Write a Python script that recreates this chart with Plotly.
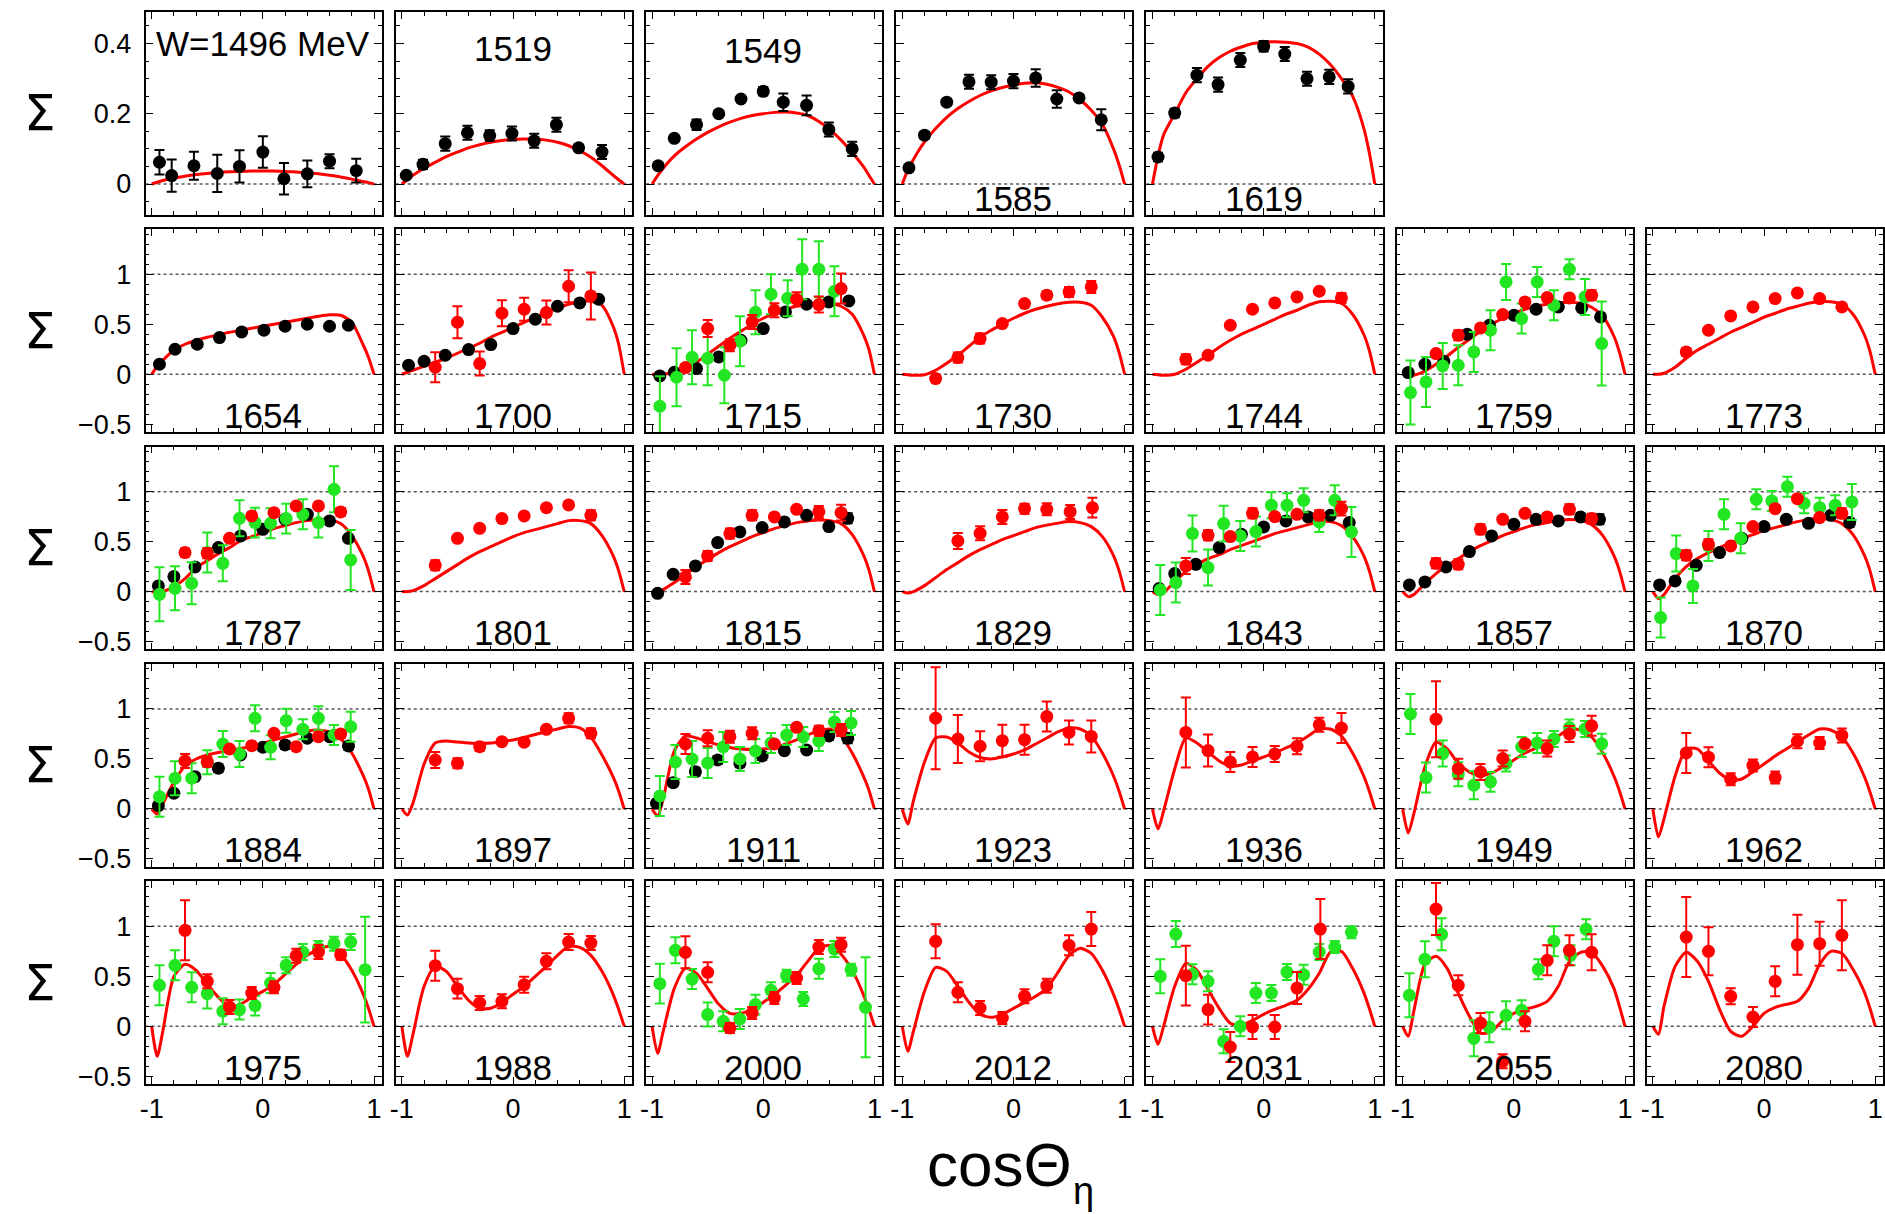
import plotly.graph_objects as go

# ---------------- data ----------------
CX = [-1, -0.95, -0.9, -0.8, -0.7, -0.6, -0.5, -0.4, -0.3, -0.2, -0.1, 0, 0.1, 0.2, 0.3, 0.4, 0.5, 0.6, 0.7, 0.8, 0.9, 0.95, 1]

LABELS = ["W=1496 MeV", "1519", "1549", "1585", "1619",
          "1654", "1700", "1715", "1730", "1744", "1759", "1773",
          "1787", "1801", "1815", "1829", "1843", "1857", "1870",
          "1884", "1897", "1911", "1923", "1936", "1949", "1962",
          "1975", "1988", "2000", "2012", "2031", "2055", "2080"]

X_TICK_LABELS = ["-1", "0", "1"]

RED_X = [-0.7, -0.5, -0.3, -0.1, 0.1, 0.3, 0.5, 0.7]
BLACK_X = [-0.94, -0.8, -0.61, -0.4, -0.2, 0.0, 0.2, 0.4, 0.6, 0.77]
GREEN_X = [-0.93, -0.79, -0.64, -0.5, -0.36, -0.21, -0.07, 0.07, 0.21, 0.36, 0.5, 0.64, 0.79]
GREEN_X14 = [-0.93, -0.79, -0.64, -0.5, -0.36, -0.21, -0.07, 0.07, 0.21, 0.36, 0.5, 0.64, 0.79, 0.92]

# ---- row 1 ----
C1496 = [0, 0.005, 0.01, 0.017, 0.022, 0.027, 0.03, 0.033, 0.035, 0.036, 0.037, 0.037, 0.037, 0.036, 0.034, 0.032, 0.029, 0.025, 0.02, 0.014, 0.007, 0.004, 0]
K1496_X = [-0.93, -0.82, -0.62, -0.41, -0.21, 0.0, 0.19, 0.4, 0.6, 0.84]
K1496_Y = [0.062, 0.024, 0.052, 0.03, 0.05, 0.091, 0.015, 0.029, 0.065, 0.038]
K1496_E = [0.035, 0.046, 0.04, 0.053, 0.046, 0.045, 0.045, 0.038, 0.02, 0.034]

C1519 = [0, 0.013, 0.025, 0.045, 0.062, 0.078, 0.091, 0.103, 0.112, 0.119, 0.124, 0.127, 0.128, 0.128, 0.125, 0.119, 0.109, 0.095, 0.076, 0.052, 0.025, 0.012, 0]
K1519_X = [-0.96, -0.81, -0.61, -0.41, -0.21, -0.01, 0.19, 0.39, 0.59, 0.8]
K1519_Y = [0.025, 0.056, 0.115, 0.146, 0.138, 0.144, 0.123, 0.169, 0.103, 0.091]
K1519_E = [0.008, 0.013, 0.02, 0.02, 0.015, 0.02, 0.02, 0.02, 0.008, 0.02]

C1549 = [0, 0.024, 0.045, 0.08, 0.106, 0.128, 0.147, 0.163, 0.176, 0.187, 0.195, 0.2, 0.204, 0.205, 0.202, 0.195, 0.178, 0.155, 0.125, 0.09, 0.05, 0.025, 0]
K1549_X = [-0.945, -0.8, -0.6, -0.4, -0.2, 0.0, 0.18, 0.39, 0.59, 0.8]
K1549_Y = [0.052, 0.13, 0.169, 0.2, 0.242, 0.264, 0.233, 0.224, 0.155, 0.1]
K1549_E = [0.008, 0.008, 0.015, 0.008, 0.008, 0.012, 0.025, 0.028, 0.02, 0.02]

C1585 = [0, 0.04, 0.07, 0.12, 0.158, 0.19, 0.215, 0.235, 0.252, 0.265, 0.275, 0.282, 0.287, 0.288, 0.284, 0.275, 0.262, 0.24, 0.21, 0.17, 0.1, 0.055, 0]
K1585_X = [-0.94, -0.8, -0.6, -0.4, -0.2, 0.0, 0.2, 0.39, 0.59, 0.79]
K1585_Y = [0.046, 0.139, 0.233, 0.291, 0.29, 0.293, 0.302, 0.242, 0.245, 0.183]
K1585_E = [0.008, 0.01, 0.008, 0.02, 0.02, 0.02, 0.025, 0.025, 0.008, 0.03]

C1619 = [0, 0.08, 0.14, 0.2, 0.26, 0.3, 0.335, 0.36, 0.378, 0.39, 0.4, 0.404, 0.405, 0.404, 0.4, 0.39, 0.37, 0.34, 0.3, 0.25, 0.16, 0.09, 0]
K1619_X = [-0.95, -0.8, -0.6, -0.41, -0.21, 0.0, 0.19, 0.39, 0.59, 0.76]
K1619_Y = [0.077, 0.202, 0.31, 0.283, 0.353, 0.392, 0.37, 0.3, 0.305, 0.278]
K1619_E = [0.012, 0.012, 0.02, 0.02, 0.02, 0.015, 0.02, 0.02, 0.02, 0.02]

# ---- row 2 ----
C1654 = [0, 0.08, 0.14, 0.24, 0.3, 0.34, 0.37, 0.395, 0.42, 0.44, 0.46, 0.48, 0.5, 0.52, 0.54, 0.56, 0.58, 0.595, 0.59, 0.52, 0.3, 0.17, 0]
K1654_X = [-0.93, -0.79, -0.59, -0.39, -0.19, 0.01, 0.2, 0.4, 0.6, 0.77]
K1654_Y = [0.1, 0.25, 0.3, 0.367, 0.423, 0.44, 0.48, 0.5, 0.48, 0.49]
K1654_E = [0.015, 0.015, 0.015, 0.015, 0.015, 0.015, 0.015, 0.015, 0.015, 0.015]

C1700 = [0, 0.02, 0.04, 0.08, 0.12, 0.16, 0.21, 0.26, 0.31, 0.37, 0.42, 0.47, 0.52, 0.57, 0.62, 0.66, 0.7, 0.725, 0.73, 0.69, 0.48, 0.3, 0]
K1700_Y = [0.09, 0.13, 0.19, 0.247, 0.297, 0.457, 0.55, 0.68, 0.713, 0.75]
K1700_E = [0.015, 0.015, 0.015, 0.015, 0.015, 0.015, 0.015, 0.015, 0.015, 0.015]
R1700_Y = [0.07, 0.52, 0.107, 0.61, 0.65, 0.617, 0.88, 0.783]
R1700_E = [0.15, 0.16, 0.12, 0.13, 0.115, 0.12, 0.16, 0.235]

C1715 = [0, -0.005, 0.0, 0.02, 0.06, 0.12, 0.2, 0.28, 0.36, 0.43, 0.5, 0.56, 0.61, 0.65, 0.68, 0.7, 0.71, 0.71, 0.68, 0.6, 0.4, 0.25, 0]
K1715_X = [-0.93, -0.8, -0.6, -0.4, -0.2, 0.0, 0.2, 0.39, 0.59, 0.77]
K1715_Y = [-0.017, 0.02, 0.057, 0.173, 0.34, 0.457, 0.623, 0.7, 0.723, 0.733]
K1715_E = [0.015, 0.015, 0.015, 0.015, 0.015, 0.015, 0.015, 0.015, 0.015, 0.015]
R1715_Y = [0.067, 0.457, 0.29, 0.523, 0.64, 0.75, 0.697, 0.857]
R1715_E = [0.03, 0.085, 0.06, 0.07, 0.07, 0.07, 0.08, 0.15]
G1715_X = [-0.93, -0.78, -0.64, -0.5, -0.35, -0.21, -0.07, 0.07, 0.22, 0.35, 0.5, 0.64]
G1715_Y = [-0.32, -0.03, 0.17, 0.16, -0.01, 0.33, 0.62, 0.8, 0.76, 1.05, 1.05, 0.83]
G1715_E = [0.3, 0.29, 0.27, 0.27, 0.28, 0.25, 0.22, 0.2, 0.18, 0.3, 0.28, 0.25]

C1730 = [0, -0.005, -0.01, -0.005, 0.04, 0.11, 0.19, 0.28, 0.37, 0.44, 0.5, 0.56, 0.61, 0.65, 0.68, 0.705, 0.72, 0.72, 0.69, 0.57, 0.38, 0.22, 0]
R1730_Y = [-0.043, 0.167, 0.357, 0.507, 0.707, 0.79, 0.823, 0.873]
R1730_E = [0.01, 0.05, 0.05, 0.01, 0.01, 0.04, 0.05, 0.06]

C1744 = [0, -0.005, -0.01, 0.0, 0.05, 0.12, 0.19, 0.27, 0.34, 0.4, 0.45, 0.5, 0.55, 0.6, 0.64, 0.69, 0.725, 0.73, 0.71, 0.6, 0.4, 0.24, 0]
R1744_Y = [0.15, 0.19, 0.49, 0.65, 0.713, 0.773, 0.83, 0.763]
R1744_E = [0.05, 0.01, 0.01, 0.01, 0.01, 0.01, 0.01, 0.05]

C1759 = [0, -0.015, -0.01, 0.03, 0.1, 0.18, 0.27, 0.35, 0.43, 0.5, 0.56, 0.61, 0.65, 0.68, 0.7, 0.715, 0.72, 0.71, 0.67, 0.58, 0.38, 0.22, 0]
K1759_X = [-0.95, -0.8, -0.63, -0.42, -0.22, 0.0, 0.2, 0.4, 0.61, 0.78]
K1759_Y = [0.017, 0.1, 0.13, 0.4, 0.49, 0.59, 0.65, 0.673, 0.663, 0.573]
K1759_E = [0.015, 0.015, 0.015, 0.015, 0.015, 0.015, 0.015, 0.015, 0.015, 0.015]
R1759_Y = [0.207, 0.39, 0.463, 0.597, 0.723, 0.767, 0.763, 0.79]
R1759_E = [0.02, 0.05, 0.02, 0.02, 0.02, 0.02, 0.02, 0.05]
G1759_Y = [-0.183, -0.077, 0.083, 0.09, 0.223, 0.44, 0.923, 0.557, 0.923, 0.69, 1.05, 0.773, 0.307]
G1759_E = [0.32, 0.25, 0.23, 0.2, 0.2, 0.2, 0.18, 0.15, 0.15, 0.15, 0.1, 0.18, 0.42]

C1773 = [0, 0.0, 0.01, 0.07, 0.16, 0.24, 0.3, 0.36, 0.42, 0.47, 0.52, 0.57, 0.61, 0.65, 0.68, 0.71, 0.725, 0.725, 0.7, 0.6, 0.4, 0.24, 0]
R1773_Y = [0.223, 0.44, 0.583, 0.673, 0.757, 0.813, 0.757, 0.673]
R1773_E = [0.04, 0.01, 0.01, 0.01, 0.01, 0.01, 0.01, 0.01]

# ---- row 3 ----
C1787 = [0, -0.01, 0.0, 0.05, 0.13, 0.24, 0.31, 0.38, 0.44, 0.51, 0.55, 0.59, 0.63, 0.66, 0.69, 0.71, 0.72, 0.72, 0.68, 0.56, 0.36, 0.21, 0]
K1787_Y = [0.057, 0.15, 0.247, 0.44, 0.557, 0.623, 0.723, 0.773, 0.707, 0.533]
K1787_E = [0.015, 0.015, 0.015, 0.015, 0.015, 0.015, 0.015, 0.015, 0.015, 0.015]
R1787_Y = [0.39, 0.383, 0.533, 0.757, 0.79, 0.857, 0.857, 0.797]
R1787_E = [0.04, 0.05, 0.02, 0.02, 0.02, 0.02, 0.02, 0.04]
G1787_Y = [-0.027, 0.033, 0.083, 0.39, 0.283, 0.733, 0.69, 0.683, 0.73, 0.773, 0.69, 1.023, 0.317]
G1787_E = [0.27, 0.22, 0.21, 0.2, 0.18, 0.18, 0.15, 0.15, 0.15, 0.15, 0.15, 0.23, 0.3]

C1801 = [0, 0.0, 0.01, 0.06, 0.13, 0.2, 0.27, 0.34, 0.4, 0.45, 0.5, 0.55, 0.59, 0.62, 0.65, 0.68, 0.71, 0.71, 0.68, 0.56, 0.36, 0.21, 0]
R1801_Y = [0.263, 0.533, 0.633, 0.73, 0.757, 0.84, 0.867, 0.763]
R1801_E = [0.05, 0.01, 0.01, 0.01, 0.01, 0.01, 0.01, 0.05]

C1815 = [0, -0.01, 0.02, 0.09, 0.17, 0.25, 0.32, 0.39, 0.45, 0.5, 0.55, 0.59, 0.63, 0.66, 0.69, 0.705, 0.715, 0.71, 0.68, 0.57, 0.37, 0.22, 0]
K1815_X = [-0.95, -0.81, -0.61, -0.41, -0.21, -0.01, 0.19, 0.39, 0.59, 0.76]
K1815_Y = [-0.017, 0.173, 0.257, 0.49, 0.597, 0.64, 0.697, 0.763, 0.65, 0.733]
K1815_E = [0.01, 0.01, 0.01, 0.03, 0.01, 0.01, 0.01, 0.01, 0.01, 0.05]
R1815_Y = [0.147, 0.357, 0.58, 0.763, 0.747, 0.823, 0.797, 0.79]
R1815_E = [0.07, 0.05, 0.05, 0.05, 0.02, 0.02, 0.06, 0.08]

C1829 = [0, -0.015, 0.0, 0.06, 0.14, 0.22, 0.29, 0.36, 0.42, 0.47, 0.52, 0.56, 0.6, 0.64, 0.665, 0.685, 0.7, 0.69, 0.65, 0.55, 0.36, 0.21, 0]
R1829_X = [-0.5, -0.3, -0.1, 0.1, 0.3, 0.51, 0.71]
R1829_Y = [0.507, 0.583, 0.747, 0.83, 0.823, 0.797, 0.84]
R1829_E = [0.08, 0.07, 0.07, 0.05, 0.06, 0.07, 0.1]

C1843 = [0, -0.03, -0.01, 0.1, 0.2, 0.27, 0.33, 0.37, 0.42, 0.46, 0.5, 0.54, 0.58, 0.61, 0.64, 0.67, 0.7, 0.7, 0.66, 0.55, 0.36, 0.21, 0]
K1843_Y = [0.03, 0.18, 0.273, 0.44, 0.573, 0.647, 0.707, 0.747, 0.763, 0.69]
K1843_E = [0.015, 0.015, 0.015, 0.015, 0.015, 0.015, 0.015, 0.015, 0.015, 0.015]
R1843_Y = [0.257, 0.563, 0.55, 0.783, 0.75, 0.773, 0.763, 0.83]
R1843_E = [0.08, 0.05, 0.02, 0.05, 0.02, 0.02, 0.05, 0.07]
G1843_Y = [0.017, 0.09, 0.58, 0.24, 0.68, 0.557, 0.6, 0.863, 0.863, 0.913, 0.697, 0.913, 0.597]
G1843_E = [0.25, 0.2, 0.18, 0.18, 0.18, 0.15, 0.15, 0.13, 0.12, 0.12, 0.1, 0.15, 0.25]

C1857 = [0, -0.05, -0.03, 0.08, 0.18, 0.26, 0.33, 0.4, 0.46, 0.51, 0.56, 0.6, 0.64, 0.67, 0.69, 0.71, 0.72, 0.71, 0.67, 0.56, 0.36, 0.21, 0]
K1857_Y = [0.067, 0.097, 0.247, 0.4, 0.557, 0.673, 0.723, 0.707, 0.747, 0.723]
K1857_E = [0.01, 0.01, 0.01, 0.01, 0.01, 0.01, 0.01, 0.03, 0.01, 0.05]
R1857_Y = [0.283, 0.273, 0.623, 0.723, 0.783, 0.747, 0.823, 0.73]
R1857_E = [0.05, 0.05, 0.05, 0.02, 0.02, 0.02, 0.05, 0.05]

C1870 = [0, -0.07, -0.03, 0.13, 0.25, 0.33, 0.39, 0.44, 0.49, 0.53, 0.57, 0.61, 0.64, 0.67, 0.7, 0.72, 0.73, 0.72, 0.68, 0.57, 0.37, 0.22, 0]
K1870_Y = [0.067, 0.107, 0.263, 0.39, 0.533, 0.65, 0.723, 0.683, 0.763, 0.69]
K1870_E = [0.01, 0.01, 0.01, 0.01, 0.01, 0.01, 0.01, 0.03, 0.01, 0.04]
R1870_Y = [0.363, 0.473, 0.457, 0.65, 0.83, 0.93, 0.74, 0.783]
R1870_E = [0.05, 0.05, 0.02, 0.02, 0.02, 0.02, 0.02, 0.05]
G1870_Y = [-0.26, 0.38, 0.057, 0.457, 0.773, 0.533, 0.923, 0.907, 1.05, 0.883, 0.84, 0.863, 0.897]
G1870_E = [0.2, 0.18, 0.17, 0.15, 0.15, 0.15, 0.1, 0.1, 0.1, 0.1, 0.1, 0.1, 0.18]

# ---- row 4 ----
C1884 = [0, -0.05, 0.05, 0.27, 0.43, 0.5, 0.54, 0.565, 0.585, 0.605, 0.63, 0.655, 0.69, 0.72, 0.75, 0.78, 0.79, 0.77, 0.7, 0.56, 0.34, 0.2, 0]
K1884_Y = [0.033, 0.157, 0.323, 0.407, 0.54, 0.617, 0.64, 0.707, 0.723, 0.63]
K1884_E = [0.01, 0.02, 0.02, 0.04, 0.02, 0.02, 0.04, 0.02, 0.02, 0.04]
R1884_Y = [0.48, 0.473, 0.6, 0.633, 0.757, 0.623, 0.723, 0.75]
R1884_E = [0.07, 0.05, 0.02, 0.02, 0.02, 0.02, 0.02, 0.04]
G1884_Y = [0.123, 0.307, 0.307, 0.467, 0.65, 0.55, 0.907, 0.617, 0.883, 0.797, 0.907, 0.74, 0.823]
G1884_E = [0.2, 0.17, 0.15, 0.12, 0.13, 0.13, 0.13, 0.12, 0.12, 0.1, 0.12, 0.1, 0.15]

C1897 = [0, -0.06, 0.06, 0.45, 0.66, 0.68, 0.67, 0.66, 0.655, 0.66, 0.675, 0.69, 0.715, 0.745, 0.775, 0.8, 0.825, 0.81, 0.72, 0.54, 0.32, 0.18, 0]
R1897_Y = [0.49, 0.457, 0.623, 0.673, 0.667, 0.797, 0.907, 0.757]
R1897_E = [0.08, 0.05, 0.04, 0.02, 0.02, 0.02, 0.05, 0.05]

C1911 = [0, -0.07, 0.1, 0.58, 0.73, 0.71, 0.675, 0.64, 0.615, 0.6, 0.595, 0.6, 0.615, 0.65, 0.69, 0.74, 0.78, 0.8, 0.73, 0.56, 0.33, 0.19, 0]
K1911_X = [-0.96, -0.81, -0.61, -0.41, -0.21, -0.01, 0.19, 0.39, 0.59, 0.76]
K1911_Y = [0.057, 0.263, 0.373, 0.49, 0.457, 0.53, 0.583, 0.59, 0.73, 0.707]
K1911_E = [0.03, 0.03, 0.04, 0.04, 0.04, 0.04, 0.02, 0.02, 0.04, 0.05]
R1911_Y = [0.65, 0.707, 0.723, 0.757, 0.65, 0.817, 0.783, 0.79]
R1911_E = [0.1, 0.08, 0.06, 0.06, 0.02, 0.03, 0.05, 0.06]
G1911_Y = [0.13, 0.47, 0.5, 0.46, 0.62, 0.5, 0.58, 0.66, 0.74, 0.72, 0.68, 0.87, 0.86]
G1911_E = [0.2, 0.17, 0.18, 0.15, 0.15, 0.12, 0.12, 0.1, 0.1, 0.1, 0.1, 0.1, 0.12]

C1923 = [0, -0.15, 0.08, 0.47, 0.71, 0.72, 0.66, 0.57, 0.515, 0.5, 0.52, 0.55, 0.59, 0.65, 0.71, 0.77, 0.81, 0.8, 0.73, 0.56, 0.33, 0.18, 0]
R1923_Y = [0.908, 0.7, 0.627, 0.683, 0.693, 0.924, 0.766, 0.726]
R1923_E = [0.51, 0.24, 0.15, 0.16, 0.15, 0.15, 0.12, 0.16]

C1936 = [0, -0.2, -0.02, 0.4, 0.71, 0.66, 0.57, 0.48, 0.43, 0.44, 0.48, 0.52, 0.56, 0.61, 0.66, 0.73, 0.8, 0.8, 0.73, 0.56, 0.33, 0.18, 0]
R1936_Y = [0.766, 0.584, 0.469, 0.521, 0.551, 0.627, 0.842, 0.809]
R1936_E = [0.35, 0.16, 0.1, 0.1, 0.08, 0.08, 0.07, 0.15]

C1949 = [0, -0.24, -0.05, 0.42, 0.67, 0.6, 0.46, 0.37, 0.33, 0.36, 0.42, 0.49, 0.56, 0.61, 0.66, 0.73, 0.8, 0.79, 0.72, 0.56, 0.33, 0.18, 0]
R1949_Y = [0.898, 0.403, 0.37, 0.505, 0.653, 0.604, 0.749, 0.832]
R1949_E = [0.38, 0.1, 0.08, 0.08, 0.02, 0.08, 0.08, 0.1]
G1949_Y = [0.95, 0.314, 0.554, 0.347, 0.238, 0.271, 0.455, 0.62, 0.66, 0.7, 0.815, 0.8, 0.653]
G1949_E = [0.2, 0.15, 0.13, 0.12, 0.14, 0.1, 0.08, 0.1, 0.1, 0.08, 0.08, 0.08, 0.1]

C1962 = [0, -0.28, -0.1, 0.33, 0.6, 0.6, 0.48, 0.36, 0.29, 0.3, 0.37, 0.45, 0.53, 0.6, 0.67, 0.74, 0.8, 0.79, 0.72, 0.56, 0.33, 0.18, 0]
R1962_Y = [0.561, 0.518, 0.297, 0.436, 0.314, 0.677, 0.66, 0.736]
R1962_E = [0.2, 0.1, 0.06, 0.06, 0.06, 0.07, 0.06, 0.07]

# ---- row 5 ----
C1975 = [0, -0.3, -0.05, 0.5, 0.62, 0.56, 0.42, 0.29, 0.2, 0.22, 0.29, 0.35, 0.42, 0.52, 0.62, 0.71, 0.77, 0.8, 0.72, 0.56, 0.33, 0.18, 0]
R1975_Y = [0.96, 0.45, 0.193, 0.333, 0.39, 0.707, 0.743, 0.717]
R1975_E = [0.3, 0.07, 0.07, 0.06, 0.06, 0.07, 0.07, 0.05]
G1975_Y = [0.41, 0.61, 0.39, 0.327, 0.15, 0.167, 0.207, 0.433, 0.61, 0.743, 0.783, 0.827, 0.843, 0.567]
G1975_E = [0.2, 0.15, 0.15, 0.15, 0.13, 0.1, 0.1, 0.1, 0.08, 0.08, 0.07, 0.07, 0.08, 0.53]

C1988 = [0, -0.3, -0.08, 0.4, 0.6, 0.55, 0.4, 0.26, 0.18, 0.18, 0.24, 0.32, 0.4, 0.5, 0.6, 0.71, 0.8, 0.79, 0.71, 0.55, 0.32, 0.17, 0]
R1988_Y = [0.607, 0.377, 0.233, 0.25, 0.417, 0.65, 0.843, 0.833]
R1988_E = [0.15, 0.1, 0.07, 0.07, 0.08, 0.08, 0.08, 0.07]

C2000 = [0, -0.27, -0.05, 0.38, 0.58, 0.53, 0.38, 0.22, 0.13, 0.13, 0.17, 0.24, 0.32, 0.41, 0.51, 0.65, 0.78, 0.81, 0.72, 0.56, 0.32, 0.17, 0]
R2000_Y = [0.74, 0.54, -0.017, 0.133, 0.283, 0.483, 0.793, 0.817]
R2000_E = [0.16, 0.1, 0.05, 0.06, 0.06, 0.06, 0.07, 0.07]
G2000_Y = [0.427, 0.76, 0.473, 0.117, 0.05, 0.073, 0.217, 0.36, 0.507, 0.273, 0.577, 0.773, 0.567, 0.19]
G2000_E = [0.2, 0.13, 0.1, 0.12, 0.1, 0.1, 0.1, 0.08, 0.06, 0.07, 0.1, 0.08, 0.06, 0.5]

C2012 = [0, -0.25, -0.05, 0.35, 0.59, 0.55, 0.4, 0.24, 0.12, 0.09, 0.12, 0.18, 0.24, 0.3, 0.38, 0.54, 0.71, 0.78, 0.73, 0.56, 0.32, 0.17, 0]
R2012_Y = [0.85, 0.34, 0.183, 0.083, 0.3, 0.407, 0.81, 0.973]
R2012_E = [0.17, 0.1, 0.07, 0.06, 0.07, 0.07, 0.1, 0.17]

C2031 = [0, -0.18, 0.0, 0.4, 0.63, 0.56, 0.37, 0.18, 0.03, 0.01, 0.06, 0.12, 0.17, 0.21, 0.26, 0.37, 0.53, 0.74, 0.75, 0.58, 0.34, 0.18, 0]
R2031_X = [-0.7, -0.5, -0.3, -0.1, 0.1, 0.3, 0.51]
R2031_Y = [0.507, 0.167, -0.207, -0.007, -0.007, 0.383, 0.973]
R2031_E = [0.3, 0.15, 0.15, 0.12, 0.12, 0.16, 0.3]
G2031_Y = [0.5, 0.923, 0.52, 0.45, -0.15, 0.0, 0.333, 0.333, 0.543, 0.517, 0.743, 0.793, 0.94]
G2031_E = [0.17, 0.13, 0.1, 0.1, 0.12, 0.1, 0.1, 0.08, 0.08, 0.1, 0.08, 0.06, 0.06]

C2055 = [0, -0.1, 0.15, 0.62, 0.7, 0.58, 0.33, 0.1, -0.07, -0.05, 0.06, 0.13, 0.17, 0.2, 0.25, 0.4, 0.65, 0.74, 0.74, 0.6, 0.38, 0.2, 0]
R2055_Y = [1.173, 0.41, 0.033, -0.35, 0.05, 0.66, 0.76, 0.74]
R2055_E = [0.26, 0.1, 0.1, 0.07, 0.1, 0.15, 0.15, 0.18]
G2055_X = [-0.94, -0.8, -0.65, -0.36, -0.22, -0.07, 0.07, 0.22, 0.36, 0.51, 0.65]
G2055_Y = [0.31, 0.67, 0.92, -0.12, -0.01, 0.11, 0.16, 0.57, 0.85, 0.71, 0.97]
G2055_E = [0.22, 0.18, 0.16, 0.18, 0.15, 0.14, 0.1, 0.1, 0.15, 0.1, 0.1]

C2080 = [0, -0.08, 0.2, 0.6, 0.74, 0.65, 0.45, 0.17, -0.05, -0.1, 0.0, 0.13, 0.19, 0.22, 0.25, 0.38, 0.62, 0.75, 0.73, 0.57, 0.35, 0.19, 0]
R2080_Y = [0.893, 0.75, 0.3, 0.093, 0.45, 0.817, 0.827, 0.91]
R2080_E = [0.4, 0.24, 0.08, 0.1, 0.15, 0.3, 0.22, 0.35]

# ---------------- panel table (built from the arrays above) ----------------
PANELS = [
    (C1496, (K1496_X, K1496_Y, K1496_E), None, None),
    (C1519, (K1519_X, K1519_Y, K1519_E), None, None),
    (C1549, (K1549_X, K1549_Y, K1549_E), None, None),
    (C1585, (K1585_X, K1585_Y, K1585_E), None, None),
    (C1619, (K1619_X, K1619_Y, K1619_E), None, None),
    (C1654, (K1654_X, K1654_Y, K1654_E), None, None),
    (C1700, (BLACK_X, K1700_Y, K1700_E), (RED_X, R1700_Y, R1700_E), None),
    (C1715, (K1715_X, K1715_Y, K1715_E), (RED_X, R1715_Y, R1715_E), (G1715_X, G1715_Y, G1715_E)),
    (C1730, None, (RED_X, R1730_Y, R1730_E), None),
    (C1744, None, (RED_X, R1744_Y, R1744_E), None),
    (C1759, (K1759_X, K1759_Y, K1759_E), (RED_X, R1759_Y, R1759_E), (GREEN_X, G1759_Y, G1759_E)),
    (C1773, None, (RED_X, R1773_Y, R1773_E), None),
    (C1787, (BLACK_X, K1787_Y, K1787_E), (RED_X, R1787_Y, R1787_E), (GREEN_X, G1787_Y, G1787_E)),
    (C1801, None, (RED_X, R1801_Y, R1801_E), None),
    (C1815, (K1815_X, K1815_Y, K1815_E), (RED_X, R1815_Y, R1815_E), None),
    (C1829, None, (R1829_X, R1829_Y, R1829_E), None),
    (C1843, (BLACK_X, K1843_Y, K1843_E), (RED_X, R1843_Y, R1843_E), (GREEN_X, G1843_Y, G1843_E)),
    (C1857, (BLACK_X, K1857_Y, K1857_E), (RED_X, R1857_Y, R1857_E), None),
    (C1870, (BLACK_X, K1870_Y, K1870_E), (RED_X, R1870_Y, R1870_E), (GREEN_X, G1870_Y, G1870_E)),
    (C1884, (BLACK_X, K1884_Y, K1884_E), (RED_X, R1884_Y, R1884_E), (GREEN_X, G1884_Y, G1884_E)),
    (C1897, None, (RED_X, R1897_Y, R1897_E), None),
    (C1911, (K1911_X, K1911_Y, K1911_E), (RED_X, R1911_Y, R1911_E), (GREEN_X, G1911_Y, G1911_E)),
    (C1923, None, (RED_X, R1923_Y, R1923_E), None),
    (C1936, None, (RED_X, R1936_Y, R1936_E), None),
    (C1949, None, (RED_X, R1949_Y, R1949_E), (GREEN_X, G1949_Y, G1949_E)),
    (C1962, None, (RED_X, R1962_Y, R1962_E), None),
    (C1975, None, (RED_X, R1975_Y, R1975_E), (GREEN_X14, G1975_Y, G1975_E)),
    (C1988, None, (RED_X, R1988_Y, R1988_E), None),
    (C2000, None, (RED_X, R2000_Y, R2000_E), (GREEN_X14, G2000_Y, G2000_E)),
    (C2012, None, (RED_X, R2012_Y, R2012_E), None),
    (C2031, None, (R2031_X, R2031_Y, R2031_E), (GREEN_X, G2031_Y, G2031_E)),
    (C2055, None, (RED_X, R2055_Y, R2055_E), (G2055_X, G2055_Y, G2055_E)),
    (C2080, None, (RED_X, R2080_Y, R2080_E), None),
]

# label positions (data y of each panel label)
LABEL_Y_ROW1 = [0.40, 0.385, 0.38, -0.04, -0.04]
LABEL_Y_LOWER = -0.41

# ---------------- layout geometry ----------------
W, H = 1885, 1214
COL_X0, COL_PITCH, PANEL_W = 140, 251, 237
ROW_Y0, ROW_PITCH, PANEL_H = 12, 218.8, 204
FONT = "Liberation Sans, Arial, Helvetica, sans-serif"
RED = "#ff0000"
BLACK = "#000000"
GREEN = "#22e622"

positions = [(0, c) for c in range(5)] + [(r, c) for r in range(1, 5) for c in range(7)]

fig = go.Figure()
layout = dict(
    width=W, height=H, margin=dict(l=0, r=0, t=0, b=0),
    paper_bgcolor="white", plot_bgcolor="white", showlegend=False,
    font=dict(family=FONT, color="black"),
)
shapes, annotations = [], []

for k, ((row, col), (curve, blk, red, grn)) in enumerate(zip(positions, PANELS), start=1):
    xs = "" if k == 1 else str(k)
    xref, yref = "x" + xs, "y" + xs
    x0 = COL_X0 + COL_PITCH * col
    y0 = ROW_Y0 + ROW_PITCH * row
    xdom = [x0 / W, (x0 + PANEL_W) / W]
    ydom = [1 - (y0 + PANEL_H) / H, 1 - y0 / H]
    first_row = row == 0

    layout["xaxis" + xs] = dict(
        domain=xdom, anchor=yref, range=[-1.055, 1.07],
        showline=True, linecolor="black", linewidth=1.5, mirror="ticks",
        ticks="inside", ticklen=7, tickwidth=1.2, tickcolor="black",
        tickmode="array", tickvals=[-1, 0, 1], ticktext=X_TICK_LABELS,
        minor=dict(ticks="inside", ticklen=4, tickwidth=1, tickcolor="black",
                   tickmode="linear", tick0=0, dtick=0.2),
        showgrid=False, zeroline=False, showticklabels=(row == 4),
        tickfont=dict(size=27, family=FONT, color="black"),
    )
    layout["yaxis" + xs] = dict(
        domain=ydom, anchor=xref,
        range=[-0.087, 0.49] if first_row else [-0.577, 1.45],
        showline=True, linecolor="black", linewidth=1.5, mirror="ticks",
        ticks="inside", ticklen=8, tickwidth=1.2, tickcolor="black",
        tickmode="linear", tick0=0, dtick=0.2 if first_row else 0.5,
        minor=dict(ticks="inside", ticklen=4, tickwidth=1, tickcolor="black",
                   tickmode="linear", tick0=0, dtick=0.05 if first_row else 0.1),
        showgrid=False, zeroline=False, showticklabels=(col == 0),
        ticklabelstandoff=7,
        tickfont=dict(size=27, family=FONT, color="black"),
    )

    for yv in ([0] if first_row else [0, 1]):
        shapes.append(dict(type="line", xref=xref + " domain", yref=yref,
                           x0=0, x1=1, y0=yv, y1=yv, layer="below",
                           line=dict(color="#555555", width=1.5, dash="dot")))

    fig.add_trace(go.Scatter(x=CX, y=curve, mode="lines", xaxis=xref, yaxis=yref,
                             line=dict(color=RED, width=3, shape="spline", smoothing=0.7),
                             hoverinfo="skip"))
    for series, color in ((blk, BLACK), (grn, GREEN), (red, RED)):
        if series is None:
            continue
        sx, sy, se = series
        fig.add_trace(go.Scatter(
            x=sx, y=sy, mode="markers", xaxis=xref, yaxis=yref,
            marker=dict(color=color, size=13, line=dict(width=0)),
            error_y=dict(type="data", array=se, visible=True, color=color,
                         thickness=2, width=5),
        ))

    ly = LABEL_Y_ROW1[col] if first_row else LABEL_Y_LOWER
    annotations.append(dict(text=LABELS[k - 1], x=0, y=ly, xref=xref, yref=yref,
                            showarrow=False, xanchor="center", yanchor="middle",
                            font=dict(size=35, family=FONT, color="black")))

# Sigma labels for each row
for r in range(5):
    yc = ROW_Y0 + ROW_PITCH * r + PANEL_H / 2
    annotations.append(dict(text="Σ", x=34 / W, y=1 - yc / H, xref="paper", yref="paper",
                            showarrow=False, xanchor="center", yanchor="middle",
                            font=dict(size=50, family="DejaVu Sans, sans-serif", color="black")))

# x axis title
annotations.append(dict(text="cosΘ", x=997 / W, y=1 - 1172 / H, xref="paper", yref="paper",
                        showarrow=False, xanchor="center", yanchor="middle",
                        font=dict(size=62, family=FONT, color="black")))
annotations.append(dict(text="η", x=1081 / W, y=1 - 1199 / H, xref="paper", yref="paper",
                        showarrow=False, xanchor="center", yanchor="middle",
                        font=dict(size=38, family=FONT, color="black")))

layout["shapes"] = shapes
layout["annotations"] = annotations
fig.update_layout(**layout)

fig.write_html("out.html", config={"displayModeBar": False},
               post_script="document.body.style.margin='0px';")
